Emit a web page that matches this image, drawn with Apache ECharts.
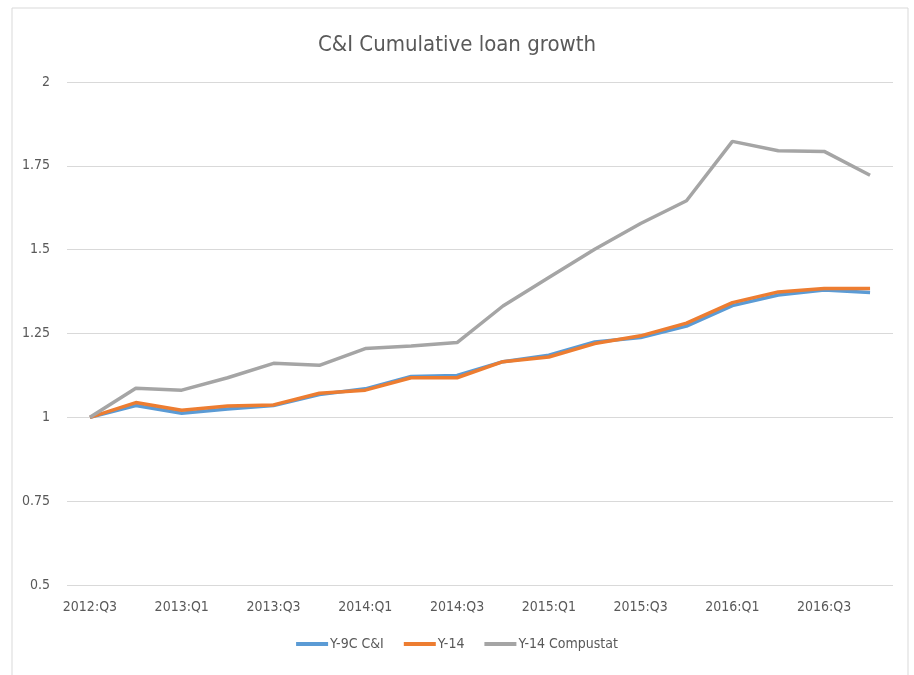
<!DOCTYPE html>
<html>
<head>
<meta charset="utf-8">
<script src="https://cdn.jsdelivr.net/npm/echarts@6/dist/echarts.min.js"></script>
<style>
  html, body { margin: 0; padding: 0; background: #fff; }
  #chart { width: 914px; height: 675px; }
</style>
</head>
<body>
<div id="chart"></div>
<script>
// quarters 2012:Q3 .. 2016:Q4
var quarters = ['2012:Q3', '2012:Q4', '2013:Q1', '2013:Q2', '2013:Q3', '2013:Q4',
  '2014:Q1', '2014:Q2', '2014:Q3', '2014:Q4', '2015:Q1', '2015:Q2',
  '2015:Q3', '2015:Q4', '2016:Q1', '2016:Q2', '2016:Q3', '2016:Q4'];

var y9c = [1.0, 1.035, 1.012, 1.025, 1.035, 1.068, 1.085, 1.122, 1.125, 1.166, 1.185, 1.225,
  1.238, 1.272, 1.333, 1.365, 1.38, 1.372];
var y14 = [1.0, 1.044, 1.021, 1.034, 1.037, 1.072, 1.081, 1.118, 1.118, 1.166, 1.18, 1.22,
  1.243, 1.281, 1.342, 1.374, 1.384, 1.384];
var y14comp = [1.0, 1.087, 1.081, 1.118, 1.161, 1.155, 1.205, 1.213, 1.223, 1.332, 1.417, 1.501,
  1.578, 1.646, 1.823, 1.795, 1.793, 1.722];

var txt = '#595959';
var font = '"DejaVu Sans Condensed", "Liberation Sans Narrow", "Liberation Sans", sans-serif';

function line(name, data, color) {
  return {
    name: name,
    type: 'line',
    data: data,
    symbol: 'none',
    lineStyle: { width: 3.5, color: color },
    itemStyle: { color: color }
  };
}

var chart = echarts.init(document.getElementById('chart'));
chart.setOption({
  animation: false,
  textStyle: { fontFamily: font },
  graphic: [{
    type: 'rect',
    shape: { x: 12, y: 8, width: 896, height: 700 },
    style: { fill: 'none', stroke: '#d9d9d9', lineWidth: 1 },
    silent: true
  }],
  title: {
    text: 'C&I Cumulative loan growth',
    left: 'center',
    top: 29,
    textStyle: { color: txt, fontSize: 22, fontWeight: 'normal', fontFamily: font }
  },
  legend: {
    bottom: 19,
    left: 'center',
    itemWidth: 32,
    itemHeight: 4,
    itemGap: 20,
    icon: 'rect',
    textStyle: { color: txt, fontSize: 14, fontFamily: font, padding: [0, 0, 0, -3] },
    data: ['Y-9C C&I', 'Y-14', 'Y-14 Compustat']
  },
  grid: { left: 67, right: 21, top: 82, bottom: 90 },
  xAxis: {
    type: 'category',
    data: quarters,
    boundaryGap: true,
    axisLine: { show: false },
    axisTick: { show: false },
    axisLabel: { interval: 1, color: txt, fontSize: 14, margin: 15, fontFamily: font }
  },
  yAxis: {
    type: 'value',
    min: 0.5,
    max: 2,
    interval: 0.25,
    axisLine: { show: false },
    axisTick: { show: false },
    axisLabel: { color: txt, fontSize: 14, margin: 17, fontFamily: font },
    splitLine: { lineStyle: { color: '#d9d9d9', width: 1 } }
  },
  series: [
    line('Y-9C C&I', y9c, '#5b9bd5'),
    line('Y-14', y14, '#ed7d31'),
    line('Y-14 Compustat', y14comp, '#a5a5a5')
  ]
});
</script>
</body>
</html>
